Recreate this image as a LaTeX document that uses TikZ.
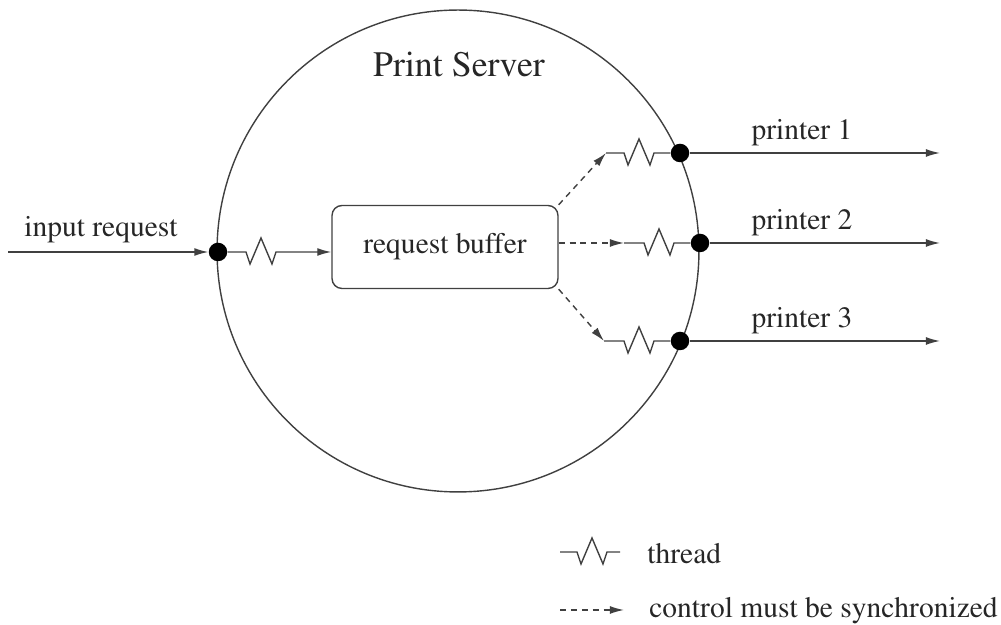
\documentclass[tikz,border=0pt]{standalone}
\usepackage[T1]{fontenc}
\renewcommand{\rmdefault}{ptm}
\usetikzlibrary{arrows.meta}

\newcommand{\zig}{-- ++(4,-12) -- ++(11,26) -- ++(11,-26) -- ++(4,12)}

\begin{document}
\begin{tikzpicture}[x=0.02cm,y=0.02cm,>={Latex[length=8pt,width=4.5pt]}]
	\tikzset{wire/.style={draw=black!75,line width=0.8pt},
		sync/.style={wire,dash pattern=on 3.4pt off 2.8pt},
		port/.style={circle,fill=black,inner sep=0pt,minimum size=0.37cm},
		lbl/.style={inner sep=0pt,font=\fontsize{16.8}{20}\selectfont,text=black!85}}
	\useasboundingbox (0,0) rectangle (1001,625);
	\node[wire,circle,minimum size=9.64cm] (server) at (458,374) {};
	\node[lbl,font=\fontsize{20.4}{24}\selectfont] (title) at (459,560) {Print Server};
	\node[wire,lbl,rounded corners=0.2cm,minimum width=4.52cm,minimum height=1.66cm] (buffer) at (445,378) {request buffer};
	% incoming side
	\coordinate (src) at (8,373);
	\node[port] (in) at (218,373) {};
	\node[lbl] (inlbl) at (101,395) {input request};
	\draw[wire,->] (src) -- (in.west);
	\draw[wire,->] (in.east) -- (246,373) \zig -- (buffer.west |- in);
	% printers
	\foreach \i/\px/\py/\tx in {1/680/472/606, 2/700/382/624, 3/680/284/604}{
		\node[port] (p\i) at (\px,\py) {};
		\coordinate (t\i) at (\tx,\py);
		\coordinate (o\i) at (940,\py);
		\draw[wire] (t\i) -- (\px-56,\py) \zig -- (p\i.west);
		\draw[wire,->] (p\i.east) -- (o\i);
		\node[lbl] (l\i) at (802,\py+20) {printer \i};
	}
	\draw[sync,->] (buffer.north east) -- (t1);
	\draw[sync,->] (buffer.east |- t2) -- (t2);
	\draw[sync,->] (buffer.south east) -- (t3);
	% legend
	\coordinate (k1) at (560,73);
	\coordinate (k2) at (620,73);
	\draw[wire] (k1) -- (577,73) \zig -- (k2);
	\node[lbl,anchor=west] (kthread) at (647,71) {thread};
	\coordinate (k3) at (560,15);
	\coordinate (k4) at (624,15);
	\draw[sync,->] (k3) -- (k4);
	\node[lbl,anchor=west] (ksync) at (649,14) {control must be synchronized};
\end{tikzpicture}
\end{document}
